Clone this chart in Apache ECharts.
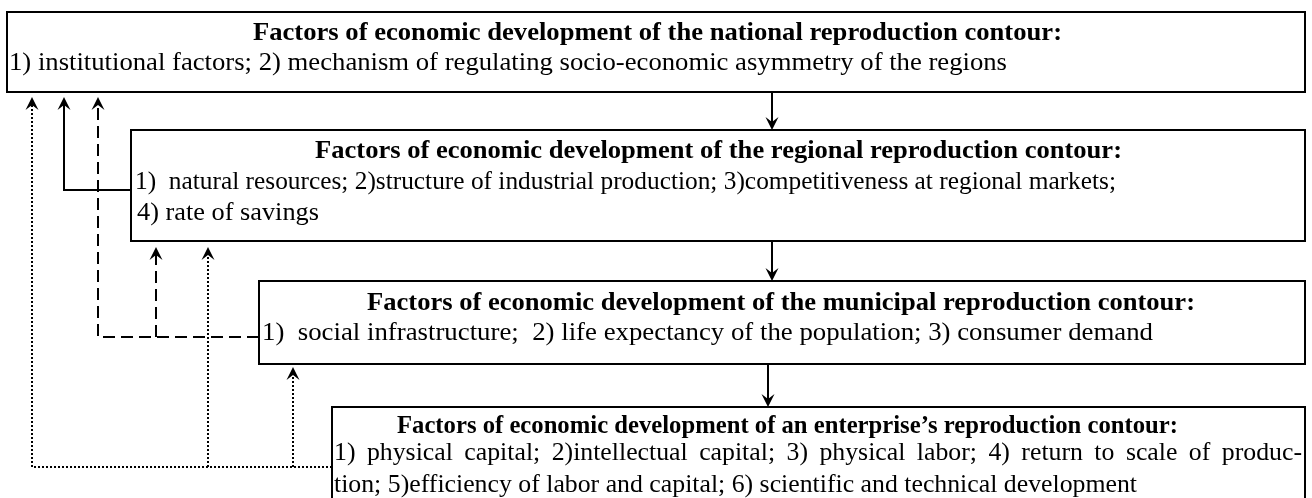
<!DOCTYPE html>
<html>
<head>
<meta charset="utf-8">
<script src="https://cdn.jsdelivr.net/npm/echarts@6/dist/echarts.min.js"></script>
<style>
  html, body { margin: 0; padding: 0; background: #fff; }
  #chart { width: 1312px; height: 498px; }
</style>
</head>
<body>
<div id="chart"></div>
<script>
'use strict';

// box texts, top to bottom
const titles = [
  'Factors of economic development of the national reproduction contour:',
  'Factors of economic development of the regional reproduction contour:',
  'Factors of economic development of the municipal reproduction contour:',
  'Factors of economic development of an enterprise\u2019s reproduction contour:'
]
const bodyLines = [
  ['1) institutional factors; 2) mechanism of regulating socio-economic asymmetry of the regions'],
  ['1)  natural resources; 2)structure of industrial production; 3)competitiveness at regional markets;',
   '4) rate of savings'],
  ['1)  social infrastructure;  2) life expectancy of the population; 3) consumer demand'],
  ['1)  physical capital; 2)intellectual capital; 3) physical labor; 4) return to scale of produc-',
   'tion; 5)efficiency of labor and capital; 6) scientific and technical development']
]

// layout (pixel space of the hidden axes)
const boxLeft = [7, 131, 259, 332]
const boxTop = [12, 130, 281, 407]
const boxBottom = [92, 241, 364, 530]
const boxRight = 1305
const titleY = [33, 151, 303, 426]
const titleLeft = [253, 315, 367, 397]
const titleRight = [1062, 1122, 1195, 1178]
const lineY = [[63], [182, 213], [333], [453, 485]]
const lineLeft = [[9], [135, 137], [262], [334, 334]]
const lineRight = [[1007], [1116, 319], [1153], [1302, 1137]]
const justify = [[false], [false, false], [false], [true, false]]

// arrows between levels: [x, yFrom, yTo]
const downArrows = [[772, 92, 130], [772, 241, 281], [768, 364, 407]]

// feedback links: polyline points, line type, arrow at last point
const links = [
  { type: 'solid',  pts: [[131, 190], [64, 190], [64, 97]] },
  { type: 'dashed', pts: [[259, 337], [98, 337], [98, 97]] },
  { type: 'dashed', pts: [[156, 337], [156, 247]] },
  { type: 'dotted', pts: [[332, 467], [32, 467], [32, 97]] },
  { type: 'dotted', pts: [[208, 467], [208, 247]] },
  { type: 'dotted', pts: [[293, 467], [293, 367]] }
]

const FONT = '"Liberation Serif", "Times New Roman", serif'
const SIZE = 26

const measureCtx = document.createElement('canvas').getContext('2d')
function textWidth(s, weight){
  measureCtx.font = (weight || 'normal') + ' ' + SIZE + 'px ' + FONT
  return measureCtx.measureText(s).width
}

function arrowHead(tip, dir){
  // dir: -1 pointing up, 1 pointing down
  const x = tip[0], y = tip[1]
  return {
    type: 'polygon',
    shape: { points: [[x, y], [x - 6.5, y - dir * 13], [x, y - dir * 8], [x + 6.5, y - dir * 13]] },
    style: { fill: '#000' }
  }
}

function textEl(str, x, y, sx, weight){
  return {
    type: 'text', x: x, y: y, scaleX: sx,
    style: {
      text: str, fill: '#000', font: (weight || 'normal') + ' ' + SIZE + 'px ' + FONT,
      align: 'left', verticalAlign: 'middle'
    }
  }
}

function renderBox(params, api){
  const i = api.value(0)
  const p0 = api.coord([boxLeft[i], boxTop[i]])
  const p1 = api.coord([boxRight, boxBottom[i]])
  const children = [{
    type: 'rect',
    shape: { x: p0[0], y: p0[1], width: p1[0] - p0[0], height: p1[1] - p0[1] },
    style: { fill: '#fff', stroke: '#000', lineWidth: 2 }
  }]
  const tl = api.coord([titleLeft[i], titleY[i]])
  const tr = api.coord([titleRight[i], titleY[i]])
  children.push(textEl(titles[i], tl[0], tl[1], (tr[0] - tl[0]) / textWidth(titles[i], 'bold'), 'bold'))

  // horizontal fit of the first plain line, reused for justified lines
  let boxScale = null
  bodyLines[i].forEach(function(line, k){
    if (!justify[i][k] && boxScale === null) {
      boxScale = (lineRight[i][k] - lineLeft[i][k]) / textWidth(line)
    }
  })

  bodyLines[i].forEach(function(line, k){
    const lp = api.coord([lineLeft[i][k], lineY[i][k]])
    const rp = api.coord([lineRight[i][k], lineY[i][k]])
    if (justify[i][k]) {
      const words = line.split(/\s+/)
      let used = 0
      words.forEach(function(w){ used += textWidth(w) * boxScale })
      const gap = (rp[0] - lp[0] - used) / (words.length - 1)
      let x = lp[0]
      words.forEach(function(w){
        children.push(textEl(w, x, lp[1], boxScale))
        x += textWidth(w) * boxScale + gap
      })
    } else {
      children.push(textEl(line, lp[0], lp[1], (rp[0] - lp[0]) / textWidth(line)))
    }
  })
  return { type: 'group', children: children }
}

function renderDown(params, api){
  const a = downArrows[api.value(0)]
  const from = api.coord([a[0], a[1]])
  const to = api.coord([a[0], a[2]])
  return {
    type: 'group',
    children: [
      { type: 'line', shape: { x1: from[0], y1: from[1], x2: to[0], y2: to[1] - 6 },
        style: { stroke: '#000', lineWidth: 2 } },
      arrowHead(to, 1)
    ]
  }
}

function renderLink(params, api){
  const l = links[api.value(0)]
  const pts = l.pts.map(function(p){ return api.coord(p) })
  const last = pts[pts.length - 1]
  const linePts = pts.slice(0, -1).concat([[last[0], last[1] + 6]])
  let dash = null
  if (l.type === 'dashed') dash = [12, 6]
  if (l.type === 'dotted') dash = [2, 2]
  return {
    type: 'group',
    children: [
      { type: 'polyline', shape: { points: linePts },
        style: { stroke: '#000', lineWidth: 2, fill: null, lineDash: dash } },
      arrowHead(last, -1)
    ]
  }
}

const chart = echarts.init(document.getElementById('chart'), null, { renderer: 'canvas' })
chart.setOption({
  animation: false,
  backgroundColor: '#fff',
  grid: { left: 0, right: 0, top: 0, bottom: 0 },
  xAxis: { type: 'value', min: 0, max: 1312, show: false },
  yAxis: { type: 'value', min: 0, max: 498, inverse: true, show: false },
  series: [
    { type: 'custom', renderItem: renderLink, clip: true, data: links.map(function(l, i){ return [i] }) },
    { type: 'custom', renderItem: renderDown, clip: true, data: downArrows.map(function(a, i){ return [i] }) },
    { type: 'custom', renderItem: renderBox, clip: true, data: titles.map(function(t, i){ return [i] }) }
  ]
})
</script>
</body>
</html>
